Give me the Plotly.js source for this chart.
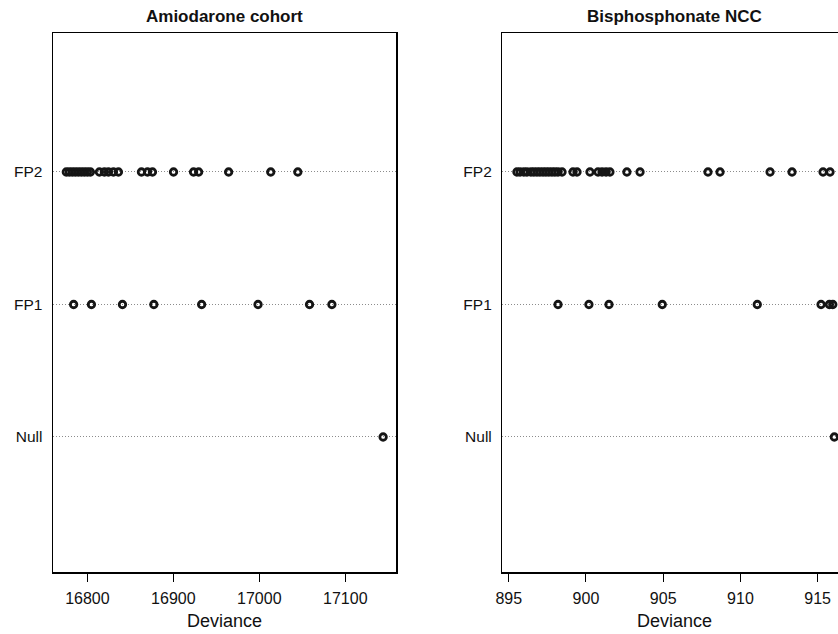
<!DOCTYPE html>
<html>
<head>
<meta charset="utf-8">
<script src="https://cdn.plot.ly/plotly-3.0.1.min.js"></script>
<style>
html, body { margin: 0; padding: 0; overflow: hidden; background: #fff; }
#chart { width: 860px; height: 634px; }
</style>
</head>
<body>
<div id="chart"></div>
<script>
// ---- data ----
const models = ['Null', 'FP1', 'FP2'];
const panelTitles = ['Amiodarone cohort', 'Bisphosphonate NCC'];

const amioNull = [17144];
const amioFP1 = [16784.0, 16804.7, 16840.8, 16877.3, 16932.9, 16998.5, 17058.4, 17084.4];
const amioFP2 = [16775.5, 16779.0, 16782.5, 16786.0, 16789.5, 16793.0, 16796.5, 16800.0, 16803.5,
                 16814.0, 16819.8, 16824.5, 16830.3, 16836.1, 16862.9, 16869.9, 16875.7, 16900.2,
                 16923.5, 16929.4, 16964.3, 17013.3, 17044.8];

const bisNull = [916.08];
const bisFP1 = [898.19, 900.19, 901.49, 904.94, 911.09, 915.22, 915.76, 915.98];
const bisFP2 = [895.53, 895.73, 895.98, 896.18, 896.44, 896.63, 896.83, 897.02, 897.22, 897.41,
                897.60, 897.80, 897.99, 898.19, 898.45, 899.16, 899.42, 900.26, 900.78, 901.04,
                901.30, 901.55, 902.65, 903.50, 907.90, 908.68, 911.92, 913.34, 915.35, 915.80];

const amioTicks = [16800, 16900, 17000, 17100];
const bisTicks = [895, 900, 905, 910, 915];

// ---- build ----
const FONT = 'Liberation Sans, Arial, Helvetica, sans-serif';
const marker = { symbol: 'circle-open', size: 6.5, color: '#151515', line: { width: 2.8, color: '#151515' } };

function pts(xs, label, xa, ya) {
  return { type: 'scatter', mode: 'markers', x: xs, y: xs.map(() => label),
           xaxis: xa, yaxis: ya, marker: marker, hoverinfo: 'x', showlegend: false };
}

const traces = [
  pts(amioNull, 'Null', 'x', 'y'), pts(amioFP1, 'FP1', 'x', 'y'), pts(amioFP2, 'FP2', 'x', 'y'),
  pts(bisNull, 'Null', 'x2', 'y2'), pts(bisFP1, 'FP1', 'x2', 'y2'), pts(bisFP2, 'FP2', 'x2', 'y2')
];

function xAxis(domain, range, ticks, anchor) {
  return { domain: domain, range: range, anchor: anchor, tickvals: ticks, tickformat: 'd',
           ticks: 'outside', ticklen: 8, tickwidth: 1, tickcolor: '#000',
           showline: true, linecolor: '#000', linewidth: 1.5, mirror: true,
           showgrid: false, zeroline: false, ticklabelstandoff: 3,
           tickfont: { family: FONT, size: 16, color: '#111' } };
}
function yAxis(anchor) {
  return { type: 'category', categoryorder: 'array', categoryarray: models, anchor: anchor,
           range: [-1.019, 3.049], ticks: 'outside', ticklen: 6, tickcolor: 'rgba(0,0,0,0)',
           showline: true, linecolor: '#000', linewidth: 1.5, mirror: true,
           showgrid: true, gridcolor: '#8c8c8c', griddash: '1px,2px', gridwidth: 1,
           zeroline: false, tickfont: { family: FONT, size: 15.5, color: '#111' } };
}

const annotations = [];
[['x domain', 0], ['x2 domain', 1]].forEach(([ref, i]) => {
  annotations.push({ xref: ref, yref: 'paper', x: 0.5, y: 1, yanchor: 'middle', yshift: 17,
                     text: '<b>' + panelTitles[i] + '</b>', showarrow: false,
                     font: { family: FONT, size: 17, color: '#111' } });
  annotations.push({ xref: ref, yref: 'paper', x: 0.5, y: 0, yanchor: 'middle', yshift: -49,
                     text: 'Deviance', showarrow: false,
                     font: { family: FONT, size: 18, color: '#111' } });
});

const layout = {
  width: 860, height: 634,
  margin: { l: 53, r: 13, t: 33, b: 62 },
  paper_bgcolor: '#fff', plot_bgcolor: '#fff',
  font: { family: FONT, color: '#111' },
  xaxis: xAxis([0, 0.432], [16760, 17159], amioTicks, 'y'),
  yaxis: yAxis('x'),
  xaxis2: xAxis([0.566, 1], [894.59, 916.9], bisTicks, 'y2'),
  yaxis2: yAxis('x2'),
  annotations: annotations,
  showlegend: false
};

Plotly.newPlot('chart', traces, layout, { staticPlot: true, displayModeBar: false });
</script>
</body>
</html>
